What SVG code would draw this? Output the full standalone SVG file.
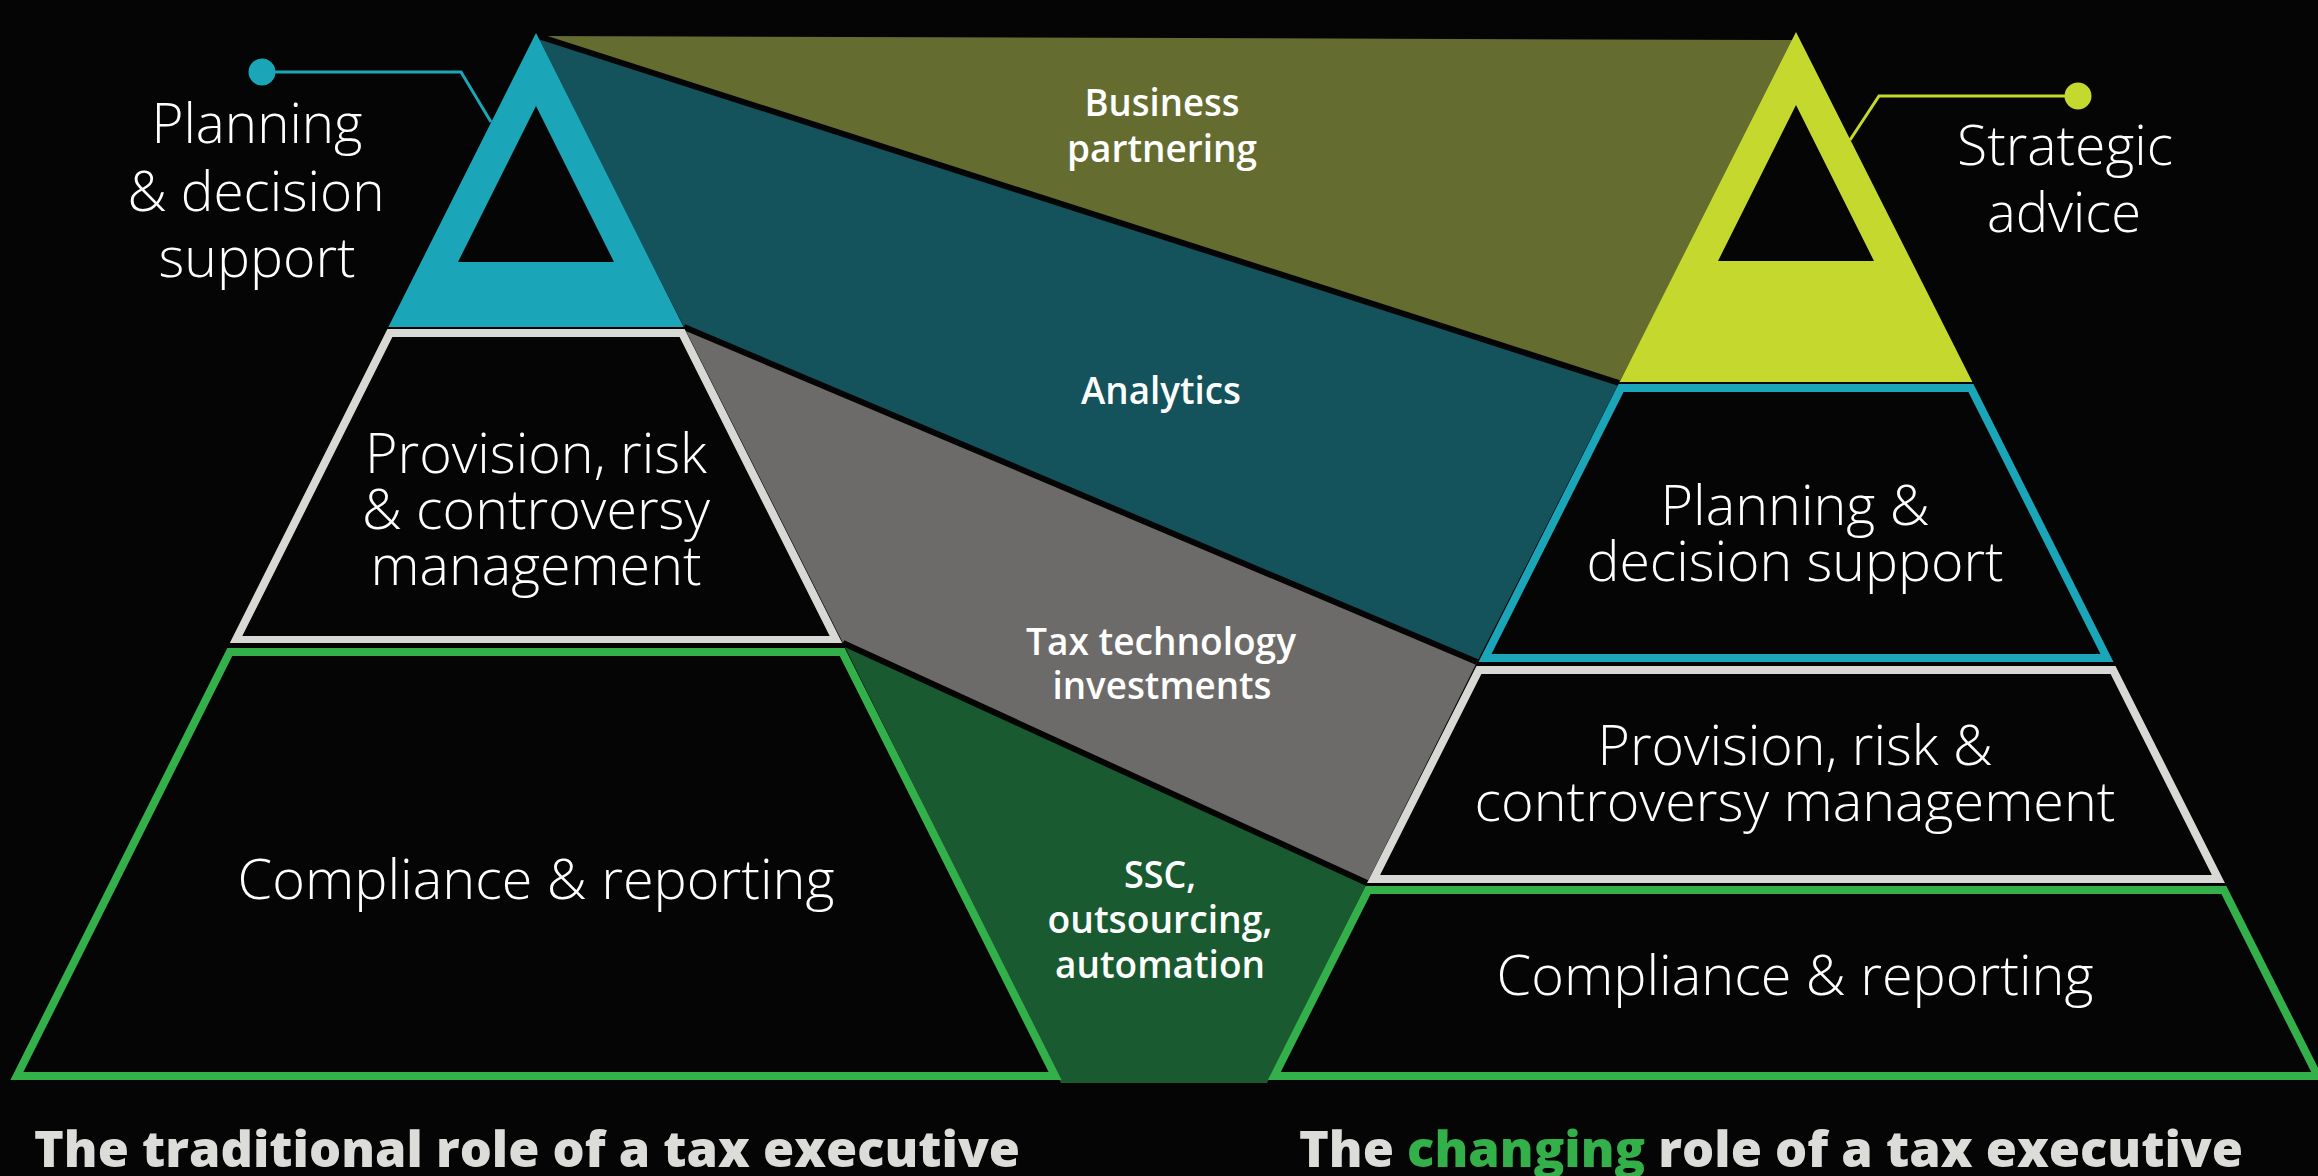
<svg xmlns="http://www.w3.org/2000/svg" width="2318" height="1176" viewBox="0 0 2318 1176">
<style>
.lbl{font-family:"Open Sans","Liberation Sans",sans-serif;font-weight:300;fill:#ffffff;text-anchor:middle;font-size:55px}
.band{font-family:"Open Sans","Liberation Sans",sans-serif;font-weight:600;fill:#ffffff;text-anchor:middle;font-size:37px}
.title{font-family:"Open Sans","Liberation Sans",sans-serif;font-weight:800;fill:#dcdcd8;font-size:50px}
.sep{stroke:#050505;stroke-width:6;fill:none}
</style>
<rect width="2318" height="1176" fill="#050505"/>
<g id="bands">
  <g id="band-business">
    <polygon points="536,36 1795,40 1619,383" fill="#646d2f"/>
    <text class="band" x="1162" y="116" textLength="155" lengthAdjust="spacingAndGlyphs">Business</text>
    <text class="band" x="1162" y="162" textLength="190" lengthAdjust="spacingAndGlyphs">partnering</text>
  </g>
  <g id="band-analytics">
    <polygon points="536,36 1619,383 1477,662 684,327" fill="#14525c"/>
    <text class="band" x="1161" y="404" textLength="160" lengthAdjust="spacingAndGlyphs">Analytics</text>
  </g>
  <g id="band-taxtech">
    <polygon points="684,327 1477,662 1367,883 843,643" fill="#6c6b69"/>
    <text class="band" x="1161" y="655" textLength="270" lengthAdjust="spacingAndGlyphs">Tax technology</text>
    <text class="band" x="1162" y="699" textLength="219" lengthAdjust="spacingAndGlyphs">investments</text>
  </g>
  <g id="band-ssc">
    <polygon points="843,643 1367,883 1267,1083 1061,1083" fill="#195a30"/>
    <text class="band" x="1160" y="888" textLength="72" lengthAdjust="spacingAndGlyphs">SSC,</text>
    <text class="band" x="1160" y="933" textLength="225" lengthAdjust="spacingAndGlyphs">outsourcing,</text>
    <text class="band" x="1160" y="978" textLength="210" lengthAdjust="spacingAndGlyphs">automation</text>
  </g>
  <line class="sep" x1="538" y1="36" x2="1619" y2="383"/>
  <line class="sep" x1="684" y1="327" x2="1477" y2="662"/>
  <line class="sep" x1="843" y1="643" x2="1367" y2="883"/>
</g>
<g id="connectors">
  <polyline points="262,72 461,72 491,122" fill="none" stroke="#1ba5b8" stroke-width="3"/>
  <circle cx="262" cy="72" r="13.5" fill="#1ba5b8"/>
  <polyline points="2078,96 1879,96 1850,140" fill="none" stroke="#c4d82e" stroke-width="3"/>
  <circle cx="2078" cy="96" r="13.5" fill="#c4d82e"/>
</g>
<g id="left-planning">
  <path d="M536,33 L388.4,327 L683.6,327 Z M536,106 L458,262 L614,262 Z" fill="#1ba5b8" fill-rule="evenodd"/>
  <text class="lbl" x="257" y="143" textLength="211" lengthAdjust="spacingAndGlyphs">Planning</text>
  <text class="lbl" x="256" y="211" textLength="257" lengthAdjust="spacingAndGlyphs">&amp; decision</text>
  <text class="lbl" x="257" y="277" textLength="197" lengthAdjust="spacingAndGlyphs">support</text>
</g>
<g id="left-provision">
  <path d="M387.4,329 L684.6,329 L842.2,643 L229.8,643 Z M392.4,337 L242.3,636 L829.7,636 L679.6,337 Z" fill="#d8d9d4" fill-rule="evenodd"/>
  <text class="lbl" x="536" y="473" textLength="342" lengthAdjust="spacingAndGlyphs">Provision, risk</text>
  <text class="lbl" x="536" y="529" textLength="348" lengthAdjust="spacingAndGlyphs">&amp; controversy</text>
  <text class="lbl" x="536" y="585" textLength="331" lengthAdjust="spacingAndGlyphs">management</text>
</g>
<g id="left-compliance">
  <path d="M227.3,648 L844.7,648 L1061.6,1080 L10.4,1080 Z M232.3,656 L23.4,1072 L1048.6,1072 L839.7,656 Z" fill="#33b04a" fill-rule="evenodd"/>
  <text class="lbl" x="536" y="899" textLength="597" lengthAdjust="spacingAndGlyphs">Compliance &amp; reporting</text>
</g>
<g id="right-strategic">
  <path d="M1796,32 L1619.6,382 L1972.4,382 Z M1796,105 L1718,261 L1874,261 Z" fill="#c4d82e" fill-rule="evenodd"/>
  <text class="lbl" x="2065" y="165" textLength="216" lengthAdjust="spacingAndGlyphs">Strategic</text>
  <text class="lbl" x="2064" y="232" textLength="154" lengthAdjust="spacingAndGlyphs">advice</text>
</g>
<g id="right-planning">
  <path d="M1618.6,384 L1973.4,384 L2113.5,662 L1478.5,662 Z M1623.6,392 L1491.5,654 L2100.5,654 L1968.4,392 Z" fill="#1ba5b8" fill-rule="evenodd"/>
  <text class="lbl" x="1795" y="525" textLength="269" lengthAdjust="spacingAndGlyphs">Planning &amp;</text>
  <text class="lbl" x="1795" y="581" textLength="417" lengthAdjust="spacingAndGlyphs">decision support</text>
</g>
<g id="right-provision">
  <path d="M1476.5,666 L2115.5,666 L2224.9,883 L1367.1,883 Z M1481.4,674 L1380.1,875 L2211.9,875 L2110.6,674 Z" fill="#d8d9d4" fill-rule="evenodd"/>
  <text class="lbl" x="1795" y="765" textLength="395" lengthAdjust="spacingAndGlyphs">Provision, risk &amp;</text>
  <text class="lbl" x="1795" y="821" textLength="641" lengthAdjust="spacingAndGlyphs">controversy management</text>
</g>
<g id="right-compliance">
  <path d="M1365.6,886 L2226.4,886 L2324.2,1080 L1267.8,1080 Z M1370.6,894 L1280.8,1072 L2311.2,1072 L2221.4,894 Z" fill="#33b04a" fill-rule="evenodd"/>
  <text class="lbl" x="1795" y="995" textLength="597" lengthAdjust="spacingAndGlyphs">Compliance &amp; reporting</text>
</g>
<g id="title-traditional">
  <text class="title" x="34" y="1167" textLength="986" lengthAdjust="spacingAndGlyphs">The traditional role of a tax executive</text>
</g>
<g id="title-changing">
  <text class="title" x="1299" y="1167" textLength="944" lengthAdjust="spacingAndGlyphs">The <tspan fill="#33b04a">changing</tspan> role of a tax executive</text>
</g>
</svg>
